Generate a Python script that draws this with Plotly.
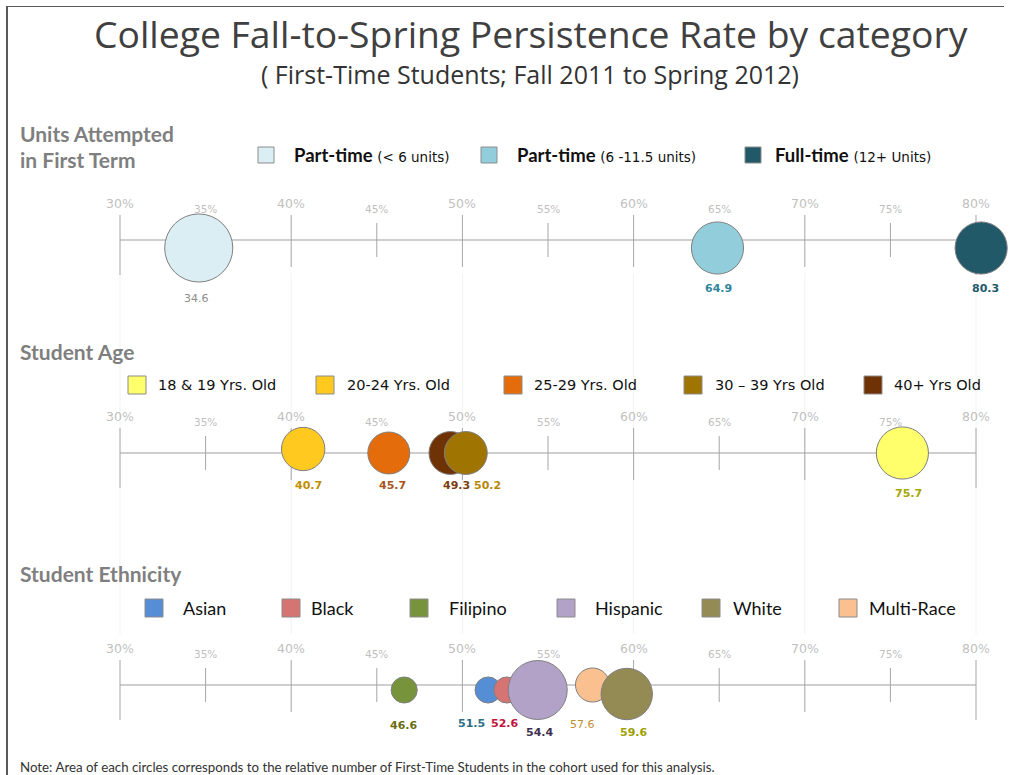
import plotly.graph_objects as go

# ---------------- data ----------------
tick_values = [30, 35, 40, 45, 50, 55, 60, 65, 70, 75, 80]
tick_labels = ["30%", "35%", "40%", "45%", "50%", "55%", "60%", "65%", "70%", "75%", "80%"]

units_categories = ["Part-time (< 6 units)", "Part-time (6 -11.5 units)", "Full-time (12+ Units)"]
units_rate = [34.6, 64.9, 80.3]
units_students = [1160, 680, 680]          # relative cohort size (area units)

age_categories = ["18 & 19 Yrs. Old", "20-24 Yrs. Old", "25-29 Yrs. Old", "30 – 39 Yrs Old", "40+ Yrs Old"]
age_rate = [75.7, 40.7, 45.7, 50.2, 49.3]
age_students = [680, 470, 440, 460, 460]

eth_categories = ["Asian", "Black", "Filipino", "Hispanic", "White", "Multi-Race"]
eth_rate = [51.5, 52.6, 46.6, 54.4, 59.6, 57.6]
eth_students = [170, 170, 170, 870, 660, 290]

# ---------------- styles ----------------
W, H = 1009, 775
PX0, PX1 = 120, 976                      # pixel positions of 30% and 80%
S = (PX1 - PX0) / (tick_values[-1] - tick_values[0])
XR = [tick_values[0] - PX0 / S, tick_values[0] + (W - PX0) / S]

units_colors = ["#DAEEF3", "#92CDDC", "#215968"]
age_colors = ["#FFFF6B", "#FFC920", "#E46C0A", "#A07400", "#6F3205"]
eth_colors = ["#558ED5", "#D67373", "#77933C", "#B3A2C7", "#948A54", "#FAC090"]

units_label_colors = ["#8C8C8C", "#31859C", "#215968"]
age_label_colors = ["#A6A600", "#BF9000", "#A5541B", "#B8860B", "#7B3F0F"]
eth_label_colors = ["#2C6E84", "#C0143C", "#6B6B10", "#3F3151", "#A0A000", "#C09030"]

units_label_bold = [False, True, True]
age_label_bold = [True] * 5
eth_label_bold = [True, True, True, True, True, False]

# layout positions (pixels)
row_line_y = [240, 453, 685]
units_dy = [8, 8, 8]
age_dy = [0, -4, 0, 0, 0]
eth_dy = [5, 5, 5, 5, 9, 0]
units_lab = [(-2, 298), (1, 288), (4, 288)]
age_lab = [(6, 493), (5, 485), (4, 485), (22, 485), (6, 485)]
eth_lab = [(-17, 723), (-2, 723), (-1, 725), (2, 732), (7, 732), (-10, 724)]

GRAY_TXT = "#7F7F7F"
TICK_C = "#A6A6A6"
AXIS_C = "#BFBFBF"
TL_C = "#BFBFBF"


def px(x):
    return x / W


def py(y):
    return 1 - y / H


fig = go.Figure()
shapes = []
ann = []

# faint vertical gridlines
for v in tick_values[::2]:
    shapes.append(dict(type="line", xref="x", yref="y", x0=v, x1=v, y0=273, y1=634,
                       line=dict(color="#F2F2F2", width=1), layer="below"))

# axes drawn from the tick list
for L in row_line_y:
    shapes.append(dict(type="line", xref="x", yref="y", x0=tick_values[0], x1=tick_values[-1],
                       y0=L, y1=L, line=dict(color=AXIS_C, width=1.5), layer="below"))
    for i, (v, lab) in enumerate(zip(tick_values, tick_labels)):
        if i in (0, len(tick_values) - 1):
            a, b = -25, 35
        elif i % 2 == 0:
            a, b = -25, 27
        else:
            a, b = -17, 17
        shapes.append(dict(type="line", xref="x", yref="y", x0=v, x1=v, y0=L + a, y1=L + b,
                           line=dict(color=TICK_C, width=1), layer="below"))
        major = i % 2 == 0
        ann.append(dict(x=v, y=L - (37 if major else 31), xref="x", yref="y", text=lab,
                        showarrow=False, xanchor="center", yanchor="middle",
                        font=dict(family="DejaVu Sans", size=12.5 if major else 10.5, color=TL_C)))


def add_row(cats, rates, students, colors, L, dys, order=None):
    idx = order if order is not None else range(len(cats))
    for i in idx:
        fig.add_trace(go.Scatter(
            x=[rates[i]], y=[L + dys[i]], mode="markers", name=cats[i], showlegend=False,
            marker=dict(size=[students[i]], sizemode="area", sizeref=0.5, color=colors[i],
                        opacity=1, line=dict(color="#7F7F7F", width=1)),
            hovertemplate=cats[i] + ": %{x}%<extra></extra>"))


add_row(units_categories, units_rate, units_students, units_colors, row_line_y[0], units_dy)
add_row(age_categories, age_rate, age_students, age_colors, row_line_y[1], age_dy, order=[0, 1, 2, 4, 3])
add_row(eth_categories, eth_rate, eth_students, eth_colors, row_line_y[2], eth_dy, order=[2, 0, 1, 3, 5, 4])


def add_labels(rates, colors, pos, bold):
    for r, c, (dx, y), b in zip(rates, colors, pos, bold):
        ann.append(dict(x=r, y=y, xref="x", yref="y", xshift=dx, text=f"{r:.1f}", showarrow=False,
                        xanchor="center", yanchor="middle",
                        font=dict(family="DejaVu Sans", size=11, color=c,
                                  weight="bold" if b else "normal")))


add_labels(units_rate, units_label_colors, units_lab, units_label_bold)
add_labels(age_rate, age_label_colors, age_lab, age_label_bold)
add_labels(eth_rate, eth_label_colors, eth_lab, eth_label_bold)

# title / subtitle
ann.append(dict(x=px(531), y=py(33), xref="paper", yref="paper", text="College Fall-to-Spring Persistence Rate by category",
                showarrow=False, xanchor="center", yanchor="middle",
                font=dict(family="Open Sans", size=37.3, color="#404040")))
ann.append(dict(x=px(530), y=py(74), xref="paper", yref="paper", text="( First-Time Students; Fall 2011 to Spring 2012)",
                showarrow=False, xanchor="center", yanchor="middle",
                font=dict(family="Open Sans", size=25, color="#333333")))

# section headings
for txt, y in [("Units Attempted", 133), ("in First Term", 160), ("Student Age", 351), ("Student Ethnicity", 573)]:
    ann.append(dict(x=px(18), y=py(y), xref="paper", yref="paper", text=txt, showarrow=False,
                    xanchor="left", yanchor="middle",
                    font=dict(family="Lato", size=21, color=GRAY_TXT, weight="bold")))


def legend_item(x_sq, size, y_c, color, text_x, text, font):
    shapes.append(dict(type="rect", xref="paper", yref="paper", x0=px(x_sq), x1=px(x_sq + size),
                       y0=py(y_c - size / 2), y1=py(y_c + size / 2), fillcolor=color,
                       line=dict(color="#8C8C8C", width=1)))
    ann.append(dict(x=px(text_x), y=py(y_c), xref="paper", yref="paper", text=text, showarrow=False,
                    xanchor="left", yanchor="middle", font=font))


units_leg_main = ["Part-time", "Part-time", "Full-time"]
units_leg_sub = ["(&lt; 6 units)", "(6 -11.5 units)", "(12+ Units)"]
for i, (sx, tx) in enumerate([(258, 292), (481, 515), (745, 773)]):
    legend_item(sx, 16, 155, units_colors[i], tx,
                f"<b>{units_leg_main[i]}</b> <span style='font-family:DejaVu Sans;font-size:13.5px'>{units_leg_sub[i]}</span>",
                dict(family="Lato", size=18.5, color="#111111"))

for i, (sx, tx) in enumerate([(128, 156), (316, 345), (504, 532), (684, 713), (864, 892)]):
    legend_item(sx, 18, 385, age_colors[i], tx, age_categories[i],
                dict(family="DejaVu Sans", size=14.5, color="#111111"))

for i, (sx, tx) in enumerate([(145, 181), (282, 309), (410, 447), (557, 593), (702, 731), (839, 867)]):
    legend_item(sx, 18, 608, eth_colors[i], tx, eth_categories[i],
                dict(family="Lato", size=18, color="#111111"))

# footnote
ann.append(dict(x=px(18), y=py(767), xref="paper", yref="paper",
                text="Note: Area of each circles corresponds to the relative number of First-Time Students in the cohort used for this analysis.",
                showarrow=False, xanchor="left", yanchor="middle",
                font=dict(family="Lato", size=13.3, color="#333333")))

# frame (left and top border)
shapes.append(dict(type="line", xref="paper", yref="paper", x0=px(7), x1=px(7), y0=0, y1=py(6),
                   line=dict(color="#595959", width=2)))
shapes.append(dict(type="line", xref="paper", yref="paper", x0=px(7), x1=px(1004), y0=py(6.5), y1=py(6.5),
                   line=dict(color="#595959", width=1)))

fig.update_layout(
    width=W, height=H, margin=dict(l=0, r=0, t=0, b=0),
    paper_bgcolor="white", plot_bgcolor="white",
    xaxis=dict(range=XR, visible=False, fixedrange=True),
    yaxis=dict(range=[H, 0], visible=False, fixedrange=True),
    shapes=shapes, annotations=ann, showlegend=False,
)

fig.write_html("out.html", config={"displayModeBar": False},
               post_script="document.body.style.margin='0px';document.body.style.overflow='hidden';")
